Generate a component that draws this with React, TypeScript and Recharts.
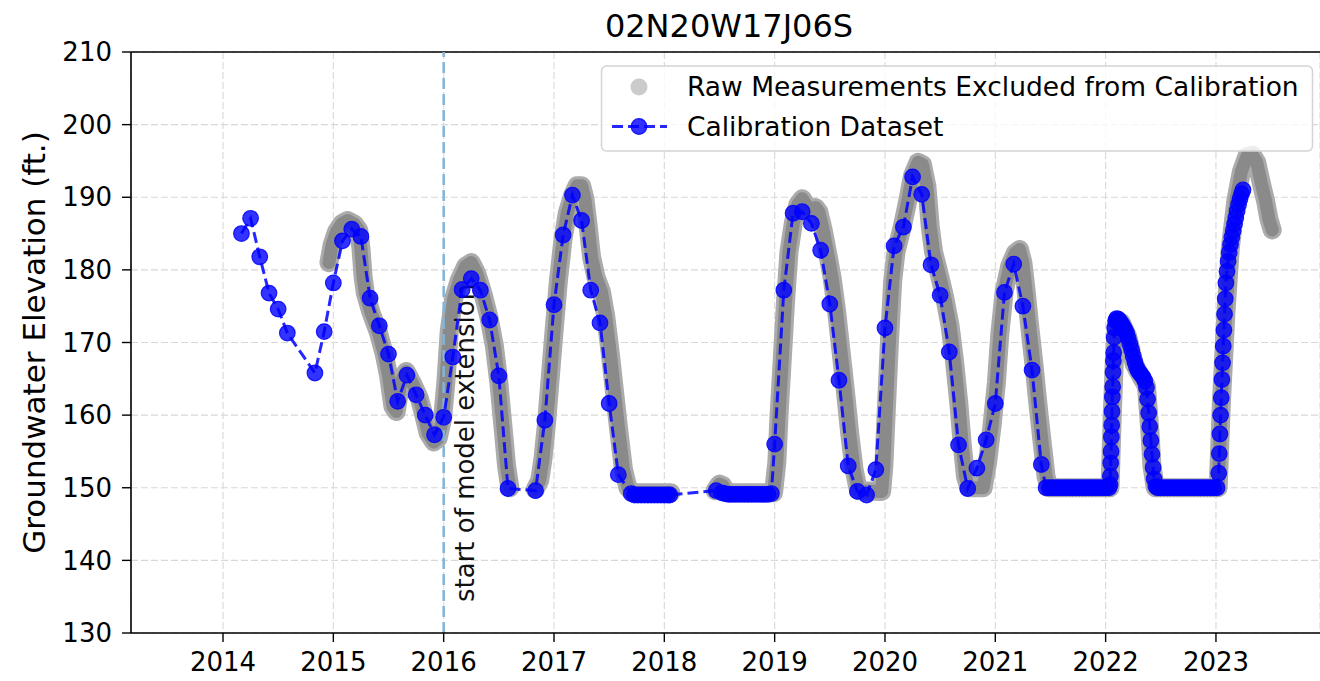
import React from 'react';
import { ComposedChart, Line, XAxis, YAxis, CartesianGrid, ReferenceLine } from 'recharts';

// ---- text ----
const TITLE = '02N20W17J06S';
const Y_LABEL = 'Groundwater Elevation (ft.)';
const EXTENSION_LABEL = 'start of model extension';
const LEGEND_RAW = 'Raw Measurements Excluded from Calibration';
const LEGEND_CAL = 'Calibration Dataset';

// ---- axes ----
const yearTicks = [2014, 2015, 2016, 2017, 2018, 2019, 2020, 2021, 2022, 2023];
const elevationTicks = [130, 140, 150, 160, 170, 180, 190, 200, 210];
const yearDomain: [number, number] = [2013.166, 2023.943];
const elevationDomain: [number, number] = [130, 210];
const modelExtensionStart = 2016.0;

// ---- raw measurements (decimal year, elevation ft) ----
const rawRecord2015: [number, number][] = [
  [2014.96, 181.0], [2014.99, 183.5], [2015.03, 185.3], [2015.08, 186.4], [2015.13, 186.8],
  [2015.19, 186.3], [2015.23, 185.5], [2015.25, 183.0], [2015.27, 179.0], [2015.29, 176.8],
  [2015.34, 174.2], [2015.41, 171.3], [2015.46, 168.5], [2015.5, 165.5], [2015.54, 161.2],
  [2015.57, 160.5], [2015.61, 164.5], [2015.66, 166.0], [2015.72, 164.3], [2015.78, 162.3],
  [2015.82, 160.0], [2015.86, 157.5], [2015.91, 156.3], [2015.95, 156.8], [2015.99, 159.5],
  [2016.02, 164.5], [2016.05, 171.5], [2016.09, 176.0], [2016.14, 178.5], [2016.2, 180.5],
  [2016.25, 181.0], [2016.3, 179.5], [2016.36, 176.5], [2016.41, 173.5], [2016.46, 169.5],
  [2016.5, 164.5], [2016.54, 158.0], [2016.57, 153.0], [2016.6, 150.0],
];

const rawRecord2017: [number, number][] = [
  [2016.83, 149.8], [2016.87, 151.0], [2016.9, 154.0], [2016.93, 158.5], [2016.96, 164.0],
  [2017.0, 171.5], [2017.04, 178.5], [2017.08, 184.0], [2017.12, 187.8], [2017.17, 190.3],
  [2017.21, 191.6], [2017.25, 191.6], [2017.28, 189.8], [2017.31, 186.0], [2017.34, 181.8],
  [2017.38, 179.0], [2017.43, 177.0], [2017.47, 173.5], [2017.51, 168.5], [2017.55, 163.0],
  [2017.59, 157.5], [2017.63, 152.5], [2017.67, 150.0], [2017.72, 149.3], [2018.06, 149.3],
];

const rawRecord2019: [number, number][] = [
  [2018.46, 149.6], [2018.5, 150.5], [2018.53, 150.3], [2018.57, 149.3], [2018.99, 149.3],
  [2019.02, 153.5], [2019.04, 160.0], [2019.07, 168.0], [2019.1, 176.0], [2019.13, 182.5],
  [2019.17, 186.5], [2019.21, 189.0], [2019.25, 189.8], [2019.29, 188.8], [2019.33, 188.0],
  [2019.37, 188.6], [2019.4, 188.0], [2019.44, 185.5], [2019.48, 182.3], [2019.52, 179.0],
  [2019.56, 174.5], [2019.6, 169.0], [2019.64, 163.5], [2019.68, 157.5], [2019.72, 152.5],
  [2019.76, 149.6], [2019.97, 149.5], [2019.99, 153.0], [2020.01, 160.0], [2020.04, 170.0],
  [2020.07, 178.5], [2020.1, 182.5], [2020.15, 185.5], [2020.2, 189.0], [2020.25, 193.0],
  [2020.3, 194.8], [2020.34, 194.5], [2020.38, 191.5], [2020.41, 186.0], [2020.44, 182.5],
  [2020.49, 179.5], [2020.54, 176.3], [2020.59, 172.3], [2020.63, 167.5], [2020.67, 161.5],
  [2020.7, 156.0], [2020.73, 151.5], [2020.76, 150.0], [2020.89, 150.0], [2020.93, 153.5],
  [2020.97, 158.5], [2021.01, 164.5], [2021.04, 171.0], [2021.08, 177.0], [2021.13, 180.5],
  [2021.18, 182.3], [2021.22, 182.8], [2021.25, 181.0], [2021.28, 177.0], [2021.31, 172.5],
  [2021.35, 167.0], [2021.39, 161.0], [2021.43, 155.5], [2021.46, 151.5], [2021.49, 150.0],
  [2022.04, 150.0], [2022.06, 160.0], [2022.08, 168.0], [2022.1, 172.5], [2022.14, 172.8],
  [2022.2, 170.8], [2022.26, 167.0], [2022.32, 165.3], [2022.37, 164.0], [2022.4, 158.0],
  [2022.42, 153.0], [2022.45, 150.0], [2023.02, 150.0], [2023.05, 162.0], [2023.09, 174.0],
  [2023.13, 183.0], [2023.18, 189.5], [2023.23, 193.5], [2023.28, 195.6], [2023.33, 195.8],
  [2023.37, 194.8], [2023.41, 192.0], [2023.45, 189.5], [2023.48, 187.0], [2023.51, 185.5],
];

// ---- calibration dataset (decimal year, elevation ft) ----
const calibrationMonthly2014: [number, number][] = [
  [2014.167, 185.0], [2014.25, 187.1], [2014.333, 181.8], [2014.417, 176.8], [2014.5, 174.6],
  [2014.583, 171.3], [2014.833, 165.8], [2014.917, 171.5], [2015.0, 178.2], [2015.083, 184.0],
  [2015.167, 185.6], [2015.25, 184.6], [2015.333, 176.1], [2015.417, 172.3], [2015.5, 168.4],
  [2015.583, 161.9], [2015.667, 165.5], [2015.75, 162.8], [2015.833, 160.0], [2015.917, 157.3],
  [2016.0, 159.7], [2016.083, 168.0], [2016.167, 177.3], [2016.25, 178.8], [2016.333, 177.2],
  [2016.417, 173.1], [2016.5, 165.4], [2016.583, 149.9], [2016.833, 149.6], [2016.917, 159.3],
  [2017.0, 175.2], [2017.083, 184.8], [2017.167, 190.3], [2017.25, 186.8], [2017.333, 177.2],
  [2017.417, 172.7], [2017.5, 161.6], [2017.583, 151.8],
];

const calibrationDaily2017: [number, number][] = [
  [2017.7, 149.2], [2017.73, 149.0], [2017.76, 149.0], [2017.79, 149.0], [2017.82, 149.0],
  [2017.85, 149.0], [2017.88, 149.0], [2017.91, 149.0], [2017.94, 149.0], [2017.97, 149.0],
  [2018.0, 149.0], [2018.03, 149.0], [2018.05, 149.0],
];

const calibrationDaily2018: [number, number][] = [
  [2018.47, 149.6], [2018.52, 149.3], [2018.55, 149.2], [2018.58, 149.1], [2018.61, 149.1],
  [2018.64, 149.1], [2018.67, 149.1], [2018.7, 149.1], [2018.73, 149.1], [2018.76, 149.1],
  [2018.79, 149.1], [2018.82, 149.1], [2018.85, 149.1], [2018.88, 149.1], [2018.91, 149.1],
  [2018.94, 149.1], [2018.97, 149.2],
];

const calibrationMonthly2019: [number, number][] = [
  [2019.0, 156.0], [2019.083, 177.2], [2019.167, 187.8], [2019.25, 188.0], [2019.333, 186.4],
  [2019.417, 182.7], [2019.5, 175.3], [2019.583, 164.8], [2019.667, 153.0], [2019.75, 149.5],
  [2019.833, 149.0], [2019.917, 152.5], [2020.0, 172.0], [2020.083, 183.3], [2020.167, 185.9],
  [2020.25, 192.8], [2020.333, 190.4], [2020.417, 180.7], [2020.5, 176.5], [2020.583, 168.7],
  [2020.667, 155.9], [2020.75, 149.9], [2020.833, 152.7], [2020.917, 156.6], [2021.0, 161.6],
  [2021.083, 176.9], [2021.167, 180.8], [2021.25, 175.0], [2021.333, 166.2], [2021.417, 153.2],
];

const calibrationDaily2021: [number, number][] = [
  [2021.46, 150.0], [2021.49, 150.0], [2021.52, 150.0], [2021.55, 150.0], [2021.58, 150.0],
  [2021.61, 150.0], [2021.64, 150.0], [2021.67, 150.0], [2021.7, 150.0], [2021.73, 150.0],
  [2021.76, 150.0], [2021.79, 150.0], [2021.82, 150.0], [2021.85, 150.0], [2021.88, 150.0],
  [2021.91, 150.0], [2021.94, 150.0], [2021.97, 150.0], [2022.0, 150.0], [2022.03, 150.0],
  [2022.04, 150.4], [2022.043, 151.6], [2022.046, 153.4], [2022.049, 155.0], [2022.052, 157.0],
  [2022.055, 158.6], [2022.058, 160.5], [2022.061, 162.5], [2022.064, 163.9], [2022.067, 165.9],
  [2022.07, 167.5], [2022.073, 168.6], [2022.077, 170.7], [2022.082, 172.0], [2022.09, 173.0],
  [2022.1, 173.3], [2022.115, 173.2], [2022.13, 172.9], [2022.145, 172.6], [2022.16, 172.2],
  [2022.175, 171.8], [2022.19, 171.3], [2022.205, 170.6], [2022.22, 169.8], [2022.235, 169.0],
  [2022.25, 168.1], [2022.265, 167.3], [2022.28, 166.6], [2022.295, 166.1], [2022.31, 165.8],
  [2022.325, 165.5], [2022.34, 165.2], [2022.355, 164.7], [2022.37, 163.8], [2022.38, 162.2],
  [2022.39, 160.3], [2022.4, 158.4], [2022.41, 156.5], [2022.42, 154.6], [2022.43, 152.8],
  [2022.44, 151.2], [2022.455, 150.2], [2022.47, 150.0], [2022.5, 150.0], [2022.53, 150.0],
  [2022.56, 150.0], [2022.59, 150.0], [2022.62, 150.0], [2022.65, 150.0], [2022.68, 150.0],
  [2022.71, 150.0], [2022.74, 150.0], [2022.77, 150.0], [2022.8, 150.0], [2022.83, 150.0],
  [2022.86, 150.0], [2022.89, 150.0], [2022.92, 150.0], [2022.95, 150.0], [2022.98, 150.0],
  [2023.01, 150.0], [2023.025, 152.0], [2023.03, 154.7], [2023.036, 157.4], [2023.042, 160.0],
  [2023.048, 162.4], [2023.054, 164.9], [2023.06, 167.2], [2023.066, 169.5], [2023.072, 171.7],
  [2023.078, 173.9], [2023.084, 176.0], [2023.09, 178.2], [2023.1, 179.8], [2023.11, 181.2],
  [2023.12, 182.4], [2023.132, 183.5], [2023.144, 184.5], [2023.156, 185.4], [2023.168, 186.3],
  [2023.18, 187.2], [2023.192, 188.1], [2023.205, 189.0], [2023.218, 189.8], [2023.232, 190.5],
  [2023.245, 191.0],
];

type Row = { t: number; v: number };
const toRows = (pairs: [number, number][]): Row[] => pairs.map(([t, v]) => ({ t, v }));

const rawSegments = [rawRecord2015, rawRecord2017, rawRecord2019].map(toRows);
const calibrationRows = toRows([
  ...calibrationMonthly2014,
  ...calibrationDaily2017,
  ...calibrationDaily2018,
  ...calibrationMonthly2019,
  ...calibrationDaily2021,
]);

// ---- styles ----
const FONT = '"DejaVu Sans", sans-serif';
const RAW_EDGE = '#ababab';
const RAW_CORE = '#8a8a8a';
const CAL_COLOR = '#0000ff';
const EXT_COLOR = '#84b4d6';

const renderCalibrationDot = (p: any) => {
  if (p.cx == null || p.cy == null) return <g key={`d-${p.index}`} />;
  return (
    <circle
      key={`d-${p.index}`}
      cx={p.cx}
      cy={p.cy}
      r={7.8}
      fill={CAL_COLOR}
      fillOpacity={0.8}
      stroke={CAL_COLOR}
      strokeOpacity={0.85}
      strokeWidth={1.2}
    />
  );
};

const renderExtensionLabel = (props: any) => {
  const vb = props.viewBox || {};
  const x = (vb.x ?? 0) + 30.5;
  const y = (vb.y ?? 0) + (vb.height ?? 0) - 31;
  return (
    <text
      x={x}
      y={y}
      transform={`rotate(-90 ${x} ${y})`}
      fontSize={26}
      fontFamily={FONT}
      fill="#111"
      textAnchor="start"
    >
      {EXTENSION_LABEL}
    </text>
  );
};

export default function App() {
  return (
    <div
      style={{
        position: 'absolute',
        left: 0,
        top: 0,
        width: 1320,
        height: 681,
        overflow: 'hidden',
        background: '#ffffff',
        fontFamily: FONT,
      }}
    >
      <ComposedChart width={1320} height={681} margin={{ top: 52, right: 0, bottom: 0, left: 0 }}>
        <CartesianGrid stroke="#d8d8d8" strokeDasharray="7 3" strokeWidth={1.1} />
        <XAxis
          dataKey="t"
          type="number"
          domain={yearDomain}
          ticks={yearTicks}
          interval={0}
          allowDataOverflow
          height={48}
          tickSize={9}
          tickMargin={11}
          tick={{ fontSize: 26, fill: '#000', fontFamily: FONT }}
          axisLine={{ stroke: '#000', strokeWidth: 1.6 }}
          tickLine={{ stroke: '#000', strokeWidth: 1.4 }}
        />
        <YAxis
          type="number"
          domain={elevationDomain}
          ticks={elevationTicks}
          interval={0}
          allowDataOverflow
          width={131}
          tickSize={9}
          tickMargin={10}
          tick={{ fontSize: 26, fill: '#000', fontFamily: FONT }}
          axisLine={{ stroke: '#000', strokeWidth: 1.6 }}
          tickLine={{ stroke: '#000', strokeWidth: 1.4 }}
        />
        <ReferenceLine y={210} stroke="#000" strokeWidth={1.6} ifOverflow="visible" />
        {rawSegments.map((rows, i) => (
          <Line
            key={`raw-edge-${i}`}
            data={rows}
            dataKey="v"
            type="linear"
            stroke={RAW_EDGE}
            strokeWidth={19}
            strokeLinecap="round"
            strokeLinejoin="round"
            dot={false}
            activeDot={false}
            isAnimationActive={false}
          />
        ))}
        {rawSegments.map((rows, i) => (
          <Line
            key={`raw-core-${i}`}
            data={rows}
            dataKey="v"
            type="linear"
            stroke={RAW_CORE}
            strokeWidth={13}
            strokeLinecap="round"
            strokeLinejoin="round"
            dot={false}
            activeDot={false}
            isAnimationActive={false}
          />
        ))}
        <ReferenceLine
          x={modelExtensionStart}
          stroke={EXT_COLOR}
          strokeWidth={2.5}
          strokeDasharray="11 5"
          label={renderExtensionLabel}
        />
        <Line
          data={calibrationRows}
          dataKey="v"
          type="linear"
          stroke={CAL_COLOR}
          strokeOpacity={0.85}
          strokeWidth={3}
          strokeDasharray="11 5"
          dot={renderCalibrationDot}
          activeDot={false}
          isAnimationActive={false}
        />
      </ComposedChart>

      {/* title, y-axis label and legend */}
      <svg
        width={1320}
        height={681}
        style={{ position: 'absolute', left: 0, top: 0, pointerEvents: 'none' }}
      >
        <text x={729} y={37} fontSize={32} fontFamily={FONT} textAnchor="middle" fill="#000">
          {TITLE}
        </text>
        <text
          x={45}
          y={342.5}
          fontSize={31}
          fontFamily={FONT}
          textAnchor="middle"
          fill="#000"
          transform="rotate(-90 45 342.5)"
        >
          {Y_LABEL}
        </text>
        <rect
          x={601.5}
          y={66}
          width={711}
          height={85}
          rx={5}
          ry={5}
          fill="#ffffff"
          fillOpacity={0.8}
          stroke="#d4d4d4"
          strokeWidth={1.5}
        />
        <circle cx={639} cy={87} r={8.5} fill="#cbcbcb" />
        <text x={687} y={96} fontSize={26.5} fontFamily={FONT} fill="#000">
          {LEGEND_RAW}
        </text>
        <line
          x1={612}
          y1={126.5}
          x2={667}
          y2={126.5}
          stroke={CAL_COLOR}
          strokeOpacity={0.85}
          strokeWidth={3}
          strokeDasharray="11 5"
        />
        <circle
          cx={639}
          cy={126.5}
          r={7.8}
          fill={CAL_COLOR}
          fillOpacity={0.8}
          stroke={CAL_COLOR}
          strokeOpacity={0.85}
          strokeWidth={1.2}
        />
        <text x={687} y={136} fontSize={26.5} fontFamily={FONT} fill="#000">
          {LEGEND_CAL}
        </text>
      </svg>
    </div>
  );
}
